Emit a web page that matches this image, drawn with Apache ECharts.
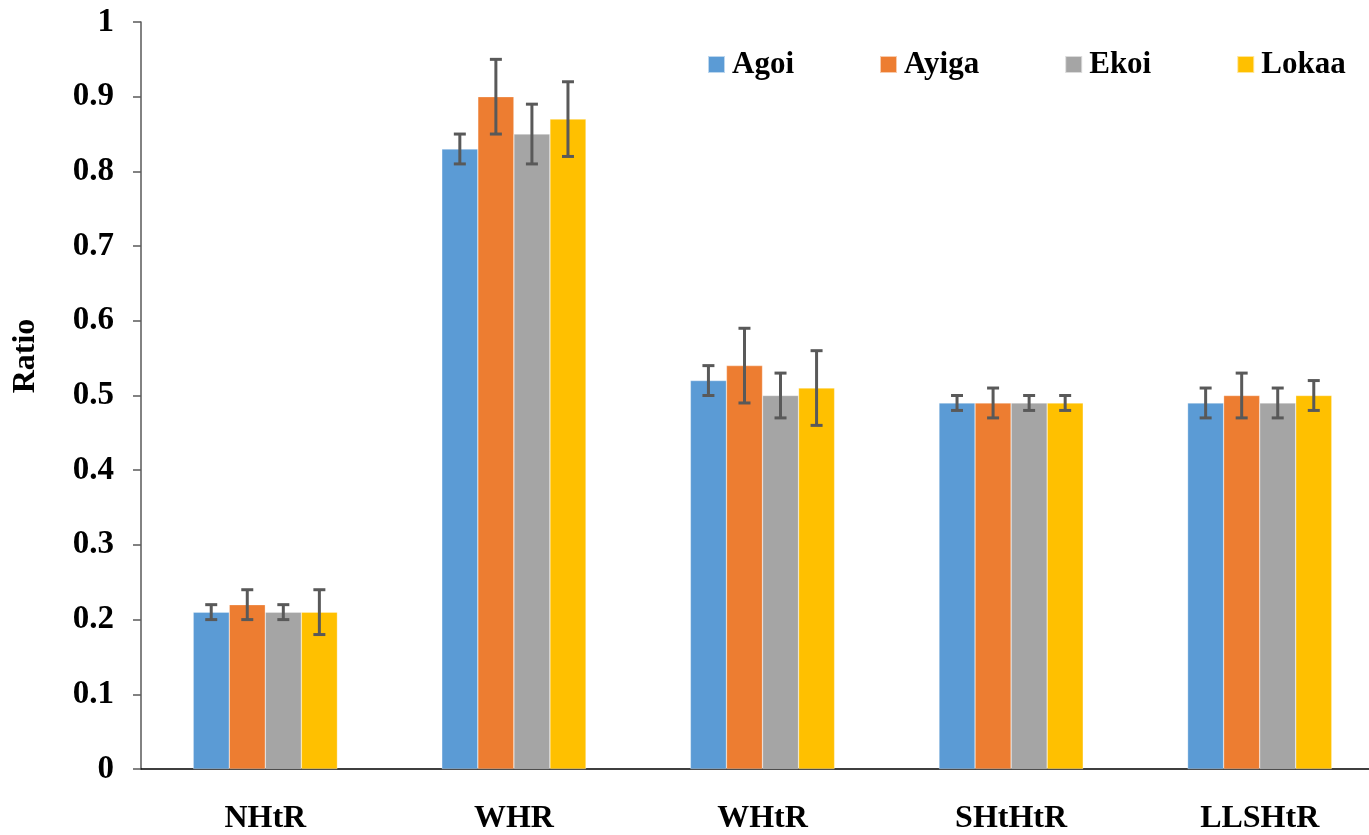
<!DOCTYPE html>
<html>
<head>
<meta charset="utf-8">
<script src="https://cdn.jsdelivr.net/npm/echarts@6/dist/echarts.min.js"></script>
<style>html,body{margin:0;padding:0;background:#fff;overflow:hidden}#c{width:1384px;height:835px}</style>
</head>
<body>
<div id="c"></div>
<script>
const categories = ['NHtR', 'WHR', 'WHtR', 'SHtHtR', 'LLSHtR'];
const seriesNames = ['Agoi', 'Ayiga', 'Ekoi', 'Lokaa'];
const colors = ['#5B9BD5', '#ED7D31', '#A5A5A5', '#FFC000'];
const agoi = [0.21, 0.83, 0.52, 0.49, 0.49];
const ayiga = [0.22, 0.90, 0.54, 0.49, 0.50];
const ekoi = [0.21, 0.85, 0.50, 0.49, 0.49];
const lokaa = [0.21, 0.87, 0.51, 0.49, 0.50];
const agoiErr = [0.01, 0.02, 0.02, 0.01, 0.02];
const ayigaErr = [0.02, 0.05, 0.05, 0.02, 0.03];
const ekoiErr = [0.01, 0.04, 0.03, 0.01, 0.02];
const lokaaErr = [0.03, 0.05, 0.05, 0.01, 0.02];
const yTicks = ['0', '0.1', '0.2', '0.3', '0.4', '0.5', '0.6', '0.7', '0.8', '0.9', '1'];
const yTitle = 'Ratio';

const values = [agoi, ayiga, ekoi, lokaa];
const errs = [agoiErr, ayigaErr, ekoiErr, lokaaErr];
const catGap = 0.42;
const font = 'Liberation Serif';

const chart = echarts.init(document.getElementById('c'));
const series = [];
seriesNames.forEach((n, i) => {
  series.push({
    name: n, type: 'bar', data: values[i], barGap: '0%', barCategoryGap: (catGap * 100) + '%',
    itemStyle: { color: colors[i], borderColor: 'rgba(255,255,255,0.6)', borderWidth: 0.5 }
  });
});
seriesNames.forEach((n, i) => {
  series.push({
    type: 'custom', name: n + ' err',
    data: values[i].map((v, k) => [k, v - errs[i][k], v + errs[i][k]]),
    renderItem: function (params, api) {
      const band = api.size([1, 0])[0];
      const groupW = band * (1 - catGap);
      const bw = groupW / 4;
      const off = -groupW / 2 + bw * (i + 0.5);
      const lo = api.coord([api.value(0), api.value(1)]);
      const hi = api.coord([api.value(0), api.value(2)]);
      const x = lo[0] + off;
      const cap = 6;
      const st = { stroke: '#595959', lineWidth: 3 };
      return {
        type: 'group', children: [
          { type: 'line', shape: { x1: x, y1: lo[1], x2: x, y2: hi[1] }, style: st },
          { type: 'line', shape: { x1: x - cap, y1: lo[1], x2: x + cap, y2: lo[1] }, style: st },
          { type: 'line', shape: { x1: x - cap, y1: hi[1], x2: x + cap, y2: hi[1] }, style: st }
        ]
      };
    },
    encode: { x: 0, y: [1, 2] },
    z: 10
  });
});

chart.setOption({
  animation: false,
  backgroundColor: '#fff',
  grid: { left: 141, top: 22, right: 0, height: 749, containLabel: false },
  legend: {
    data: seriesNames, left: 702, top: 44, itemWidth: 17, itemHeight: 17, itemGap: 85,
    icon: 'rect',
    textStyle: { fontFamily: font, fontWeight: 'bold', fontSize: 31, lineHeight: 31, color: '#000', padding: [0, 0, 0, 2] }
  },
  graphic: [{
    type: 'text', x: 26, y: 356, rotation: Math.PI / 2,
    style: { text: yTitle, fontFamily: font, fontWeight: 'bold', fontSize: 32, fill: '#000', align: 'center', verticalAlign: 'middle' }
  }],
  xAxis: {
    type: 'category', data: categories,
    axisLine: { lineStyle: { color: '#000', width: 1.5 } },
    axisTick: { show: false },
    axisLabel: { fontFamily: font, fontWeight: 'bold', fontSize: 32, color: '#000', margin: 34 }
  },
  yAxis: {
    type: 'value', min: 0, max: 1, interval: 0.1,
    axisLine: { show: true, lineStyle: { color: '#595959', width: 1.5 } },
    axisTick: { show: true, length: 8, lineStyle: { color: '#595959', width: 1.5 } },
    splitLine: { show: false },
    axisLabel: {
      fontFamily: font, fontWeight: 'bold', fontSize: 33, color: '#000', margin: 27,
      formatter: function (v) { return yTicks[Math.round(v * 10)]; }
    }
  },
  series: series
});
</script>
</body>
</html>
